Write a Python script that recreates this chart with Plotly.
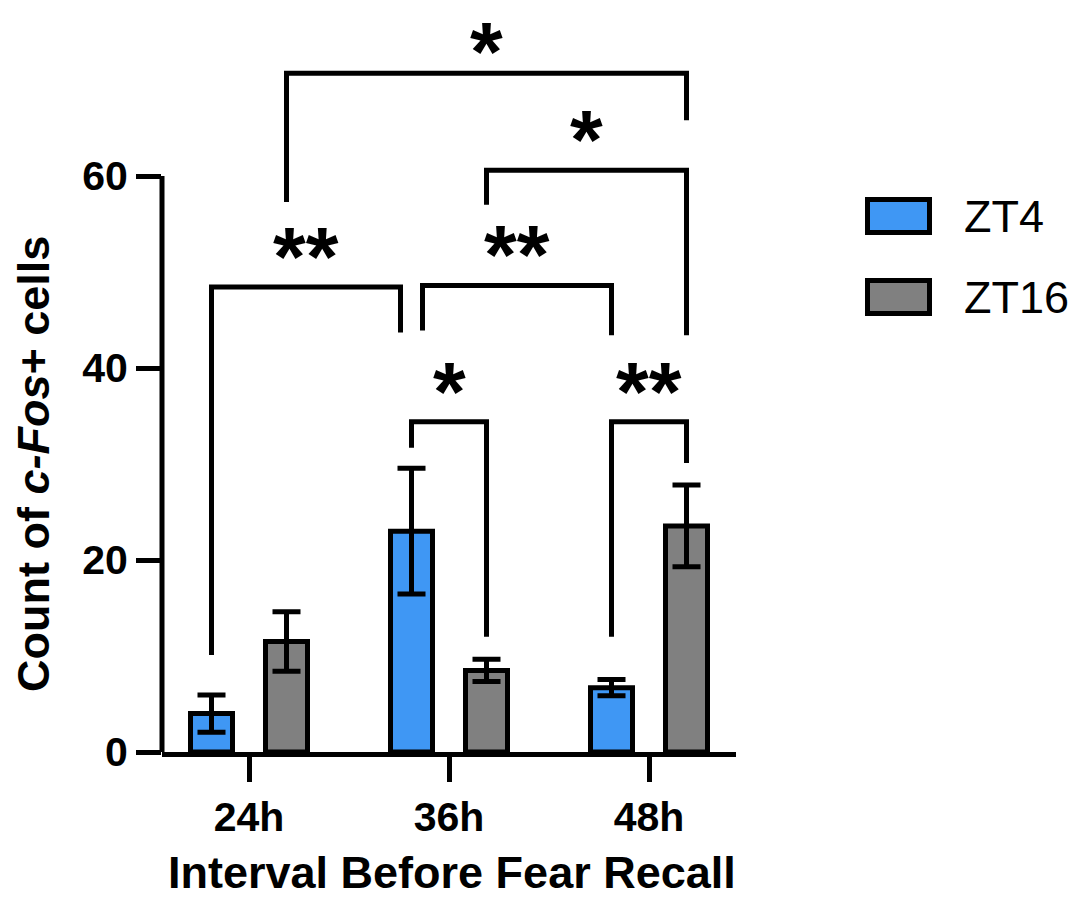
import plotly.graph_objects as go

# ---------------- data ----------------
categories = ["24h", "36h", "48h"]
series_names = ["ZT4", "ZT16"]
zt4_mean = [4.0, 23.0, 6.7]
zt4_sem = [1.95, 6.55, 0.85]
zt16_mean = [11.5, 8.5, 23.55]
zt16_sem = [3.1, 1.15, 4.25]
y_tick_values = [0, 20, 40, 60]
x_title = "Interval Before Fear Recall"
y_title = "Count of <i>c-Fos</i>+ cells"

# significance comparisons: (series index, category index) of the two bars
cmp_left = [(1, 0), (1, 1), (0, 0), (0, 1), (0, 1), (0, 2)]
cmp_right = [(1, 2), (1, 2), (0, 1), (0, 2), (1, 1), (1, 2)]
cmp_height = [70.7, 60.6, 48.45, 48.6, 34.4, 34.4]
cmp_left_end = [57.3, 57.0, 10.1, 43.9, 31.7, 12.0]
cmp_right_end = [65.8, 43.4, 43.7, 43.4, 12.0, 30.1]
cmp_label = ["*", "*", "**", "**", "*", "**"]

# ---------------- style ----------------
FONT = "Liberation Sans, Arial, Helvetica, sans-serif"
colors = ["#3F97F4", "#808080"]
BAR_SHIFT = 0.1875
BAR_WIDTH = 0.21
LW = 5
LEG_NUDGE_L = [0, 0, 0, 0.055, 0, 0]
LEG_NUDGE_R = [0, 0, -0.055, 0, 0, 0]
STAR_SHIFT = [21, 30, 30, 30, 30, 30]   # px above bracket (top one kept inside the page)

W, H = 1075, 898
ML, MR, MT, MB = 162, 339, 32, 146
PW, PH = W - ML - MR, H - MT - MB


def pxx(px):
    return (px - ML) / PW


def pxy(py):
    return (H - MB - py) / PH


means = [zt4_mean, zt16_mean]
sems = [zt4_sem, zt16_sem]
shifts = [-BAR_SHIFT, BAR_SHIFT]

fig = go.Figure()
for s in range(2):
    fig.add_trace(go.Bar(
        x=[i + shifts[s] for i in range(len(categories))],
        y=means[s],
        width=BAR_WIDTH,
        name=series_names[s],
        marker=dict(color=colors[s], line=dict(color="black", width=LW)),
        error_y=dict(type="data", array=sems[s], visible=True,
                     color="black", thickness=LW, width=14),
        showlegend=False,
    ))

shapes = []
annotations = []

# y axis line only up to 60
shapes.append(dict(type="line", xref="paper", yref="y", x0=0, x1=0,
                   y0=0, y1=y_tick_values[-1], line=dict(color="black", width=LW)))

# significance brackets
for k in range(len(cmp_label)):
    ls, lc = cmp_left[k]
    rs, rc = cmp_right[k]
    xl = lc + shifts[ls] + LEG_NUDGE_L[k]
    xr = rc + shifts[rs] + LEG_NUDGE_R[k]
    h = cmp_height[k]
    path = f"M {xl},{cmp_left_end[k]} L {xl},{h} L {xr},{h} L {xr},{cmp_right_end[k]}"
    shapes.append(dict(type="path", xref="x", yref="y", path=path,
                       line=dict(color="black", width=LW)))
    annotations.append(dict(x=(xl + xr) / 2, y=h, xref="x", yref="y",
                            text=cmp_label[k], showarrow=False,
                            xanchor="center", yanchor="middle", yshift=STAR_SHIFT[k],
                            font=dict(family=FONT, size=84, color="black", weight="bold")))

# manual legend
leg_y = [216, 297]
for s in range(2):
    cy = leg_y[s]
    shapes.append(dict(type="rect", xref="paper", yref="paper",
                       x0=pxx(867.5), x1=pxx(929.5), y0=pxy(cy - 16.5), y1=pxy(cy + 16.5),
                       fillcolor=colors[s], line=dict(color="black", width=LW)))
    annotations.append(dict(x=pxx(962), y=pxy(cy), xref="paper", yref="paper",
                            text=series_names[s], showarrow=False,
                            xanchor="left", yanchor="middle",
                            font=dict(family=FONT, size=45, color="black")))

# axis titles
annotations.append(dict(x=pxx(452), y=pxy(872), xref="paper", yref="paper",
                        text=x_title, showarrow=False, xanchor="center", yanchor="middle",
                        font=dict(family=FONT, size=45, color="black", weight="bold")))
annotations.append(dict(x=pxx(33), y=pxy(464), xref="paper", yref="paper",
                        text=y_title, showarrow=False, textangle=-90,
                        xanchor="center", yanchor="middle",
                        font=dict(family=FONT, size=45, color="black", weight="bold")))

fig.update_layout(
    width=W, height=H, autosize=False,
    margin=dict(l=ML, r=MR, t=MT, b=MB, pad=0),
    paper_bgcolor="white", plot_bgcolor="white",
    barmode="overlay", showlegend=False,
    shapes=shapes, annotations=annotations,
    font=dict(family=FONT, color="black"),
    xaxis=dict(range=[-0.435, 2.435], tickmode="array", tickvals=list(range(len(categories))),
               ticktext=categories, showline=True, linecolor="black", linewidth=LW,
               ticks="outside", ticklen=25, tickwidth=LW, tickcolor="black",
               tickfont=dict(family=FONT, size=41, color="black", weight="bold"),
               showgrid=False, zeroline=False),
    yaxis=dict(range=[0, 75], tickmode="array", tickvals=y_tick_values,
               showline=False, ticks="outside", ticklen=25, tickwidth=LW, tickcolor="black",
               tickfont=dict(family=FONT, size=41, color="black", weight="bold"),
               showgrid=False, zeroline=False),
)

fig.write_html("out.html")
